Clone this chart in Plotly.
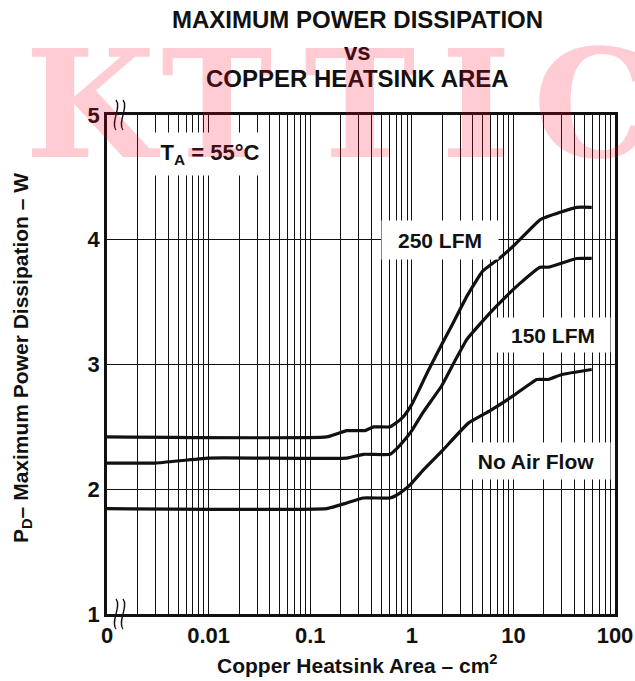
import math
import plotly.graph_objects as go

# Copper heatsink area (cm^2) and maximum power dissipation (W) for each air-flow condition
area_250 = [0.001, 0.145, 0.229, 0.345, 0.42, 0.61, 0.75, 0.86, 1.0, 1.2, 1.45, 2.0, 2.47, 3.5, 5.0, 7.5, 10, 18.3, 28.8, 42, 59]
pd_250 = [2.42, 2.42, 2.47, 2.47, 2.50, 2.50, 2.55, 2.60, 2.68, 2.81, 2.95, 3.17, 3.31, 3.55, 3.75, 3.86, 3.95, 4.16, 4.22, 4.26, 4.26]

area_150 = [0.001, 0.003, 0.01, 0.229, 0.333, 0.61, 0.72, 0.86, 1.0, 1.3, 1.97, 2.66, 3.47, 5.0, 6.85, 11.6, 18.3, 22, 42, 59]
pd_150 = [2.21, 2.21, 2.25, 2.25, 2.28, 2.28, 2.33, 2.40, 2.47, 2.62, 2.83, 3.03, 3.20, 3.35, 3.47, 3.65, 3.78, 3.78, 3.85, 3.85]

area_na = [0.001, 0.145, 0.229, 0.333, 0.61, 0.7, 0.857, 1.0, 1.3, 2.0, 3.6, 5.9, 10, 17, 22, 30, 59]
pd_na = [1.845, 1.845, 1.89, 1.93, 1.93, 1.95, 2.0, 2.05, 2.155, 2.31, 2.53, 2.63, 2.75, 2.88, 2.88, 2.92, 2.96]

# Axis ticks: log grid with a line at every 1..9 multiple, labels on decades
x_decade_labels = {0.001: "0", 0.01: "0.01", 0.1: "0.1", 1: "1", 10: "10", 100: "100"}
x_tickvals = [round(m * 10 ** e, 6) for e in range(-3, 2) for m in range(1, 10)] + [100]
x_ticktext = [x_decade_labels.get(v, "") for v in x_tickvals]
y_tickvals = [1, 2, 3, 4, 5]

FONT = "Liberation Sans, Arial, Helvetica, sans-serif"
W, H = 635, 681
L, R, T, B = 107, 20, 115, 67

fig = go.Figure()
for xs, ys in [(area_250, pd_250), (area_150, pd_150), (area_na, pd_na)]:
    fig.add_trace(go.Scatter(x=xs, y=ys, mode="lines",
                             line=dict(color="#111111", width=3.2, shape="spline", smoothing=0.35),
                             showlegend=False, hoverinfo="skip"))

fig.update_xaxes(type="log", range=[-3, 2], tickvals=x_tickvals, ticktext=x_ticktext,
                 showgrid=True, gridcolor="#111111", gridwidth=1,
                 showline=True, linecolor="#111111", linewidth=2.5, mirror=True,
                 ticks="", zeroline=False, automargin=False,
                 tickfont=dict(family=FONT, size=22, color="#111111", weight="bold"))
fig.update_yaxes(range=[1, 5], tickvals=y_tickvals,
                 showgrid=True, gridcolor="#111111", gridwidth=1,
                 showline=True, linecolor="#111111", linewidth=2.5, mirror=True,
                 ticks="", zeroline=False, automargin=False,
                 tickfont=dict(family=FONT, size=22, color="#111111", weight="bold"))

bold = dict(family=FONT, color="#111111", weight="bold")


def px2paper(px, py):
    return (px - L) / (W - L - R), (H - B - py) / (H - T - B)


annotations = []
# Title lines
for text, py in [("MAXIMUM POWER DISSIPATION", 20), ("vs", 51), ("COPPER HEATSINK AREA", 79)]:
    x, y = px2paper(357, py)
    annotations.append(dict(text=text, x=x, y=y, xref="paper", yref="paper", showarrow=False,
                            xanchor="center", yanchor="middle", font=dict(bold, size=24)))
# Axis titles
x, y = px2paper(357, 664)
annotations.append(dict(text="Copper Heatsink Area – cm<sup>2</sup>", x=x, y=y, xref="paper", yref="paper",
                        showarrow=False, xanchor="center", yanchor="middle", font=dict(bold, size=21)))
x, y = px2paper(22, 358)
annotations.append(dict(text="P<sub>D</sub>– Maximum Power Dissipation – W", x=x, y=y, xref="paper", yref="paper",
                        showarrow=False, textangle=-90, xanchor="center", yanchor="middle", font=dict(bold, size=21)))

# In-plot labels on white boxes
for text, xv, yv, w, h, fs in [("T<sub>A</sub> = 55°C", 0.0103, 4.69, 112, 38, 22),
                               ("250 LFM", 1.9, 4.0, 112, 34, 21),
                               ("150 LFM", 24.8, 3.24, 110, 30, 21),
                               ("No Air Flow", 16.5, 2.23, 144, 32, 21)]:
    annotations.append(dict(text=text, x=math.log10(xv), y=yv, showarrow=False,
                            xanchor="center", yanchor="middle", bgcolor="white", width=w, height=h,
                            borderpad=2, font=dict(bold, size=fs)))

fig.update_layout(annotations=annotations)

# Axis-break marks at the lower and upper left corners
shapes = []
for py_mid in (T, H - B):
    for dx in (0, 7):
        x0 = 116 + dx
        pts = [(x0, py_mid - 15), (x0 + 6, py_mid - 8), (x0 - 6, py_mid + 8), (x0, py_mid + 15)]
        p = [px2paper(a, b) for a, b in pts]
        path = "M {0},{1} C {2},{3} {4},{5} {6},{7}".format(p[0][0], p[0][1], p[1][0], p[1][1],
                                                             p[2][0], p[2][1], p[3][0], p[3][1])
        shapes.append(dict(type="path", path=path, xref="paper", yref="paper",
                           line=dict(color="#111111", width=1.3)))
fig.update_layout(shapes=shapes)

# Semi-transparent watermark letters laid over the chart
for ch, cx in zip("KTTIC", [92, 217, 360, 476, 592]):
    x, y = px2paper(cx, 104)
    fig.add_annotation(text=ch, x=x, y=y, xref="paper", yref="paper", showarrow=False,
                       xanchor="center", yanchor="middle",
                       font=dict(family="DejaVu Serif, serif", size=150, color="rgba(255,0,40,0.2)", weight="bold"))

fig.update_layout(width=W, height=H, margin=dict(l=L, r=R, t=T, b=B),
                  paper_bgcolor="white", plot_bgcolor="white")
fig.write_html("out.html")
